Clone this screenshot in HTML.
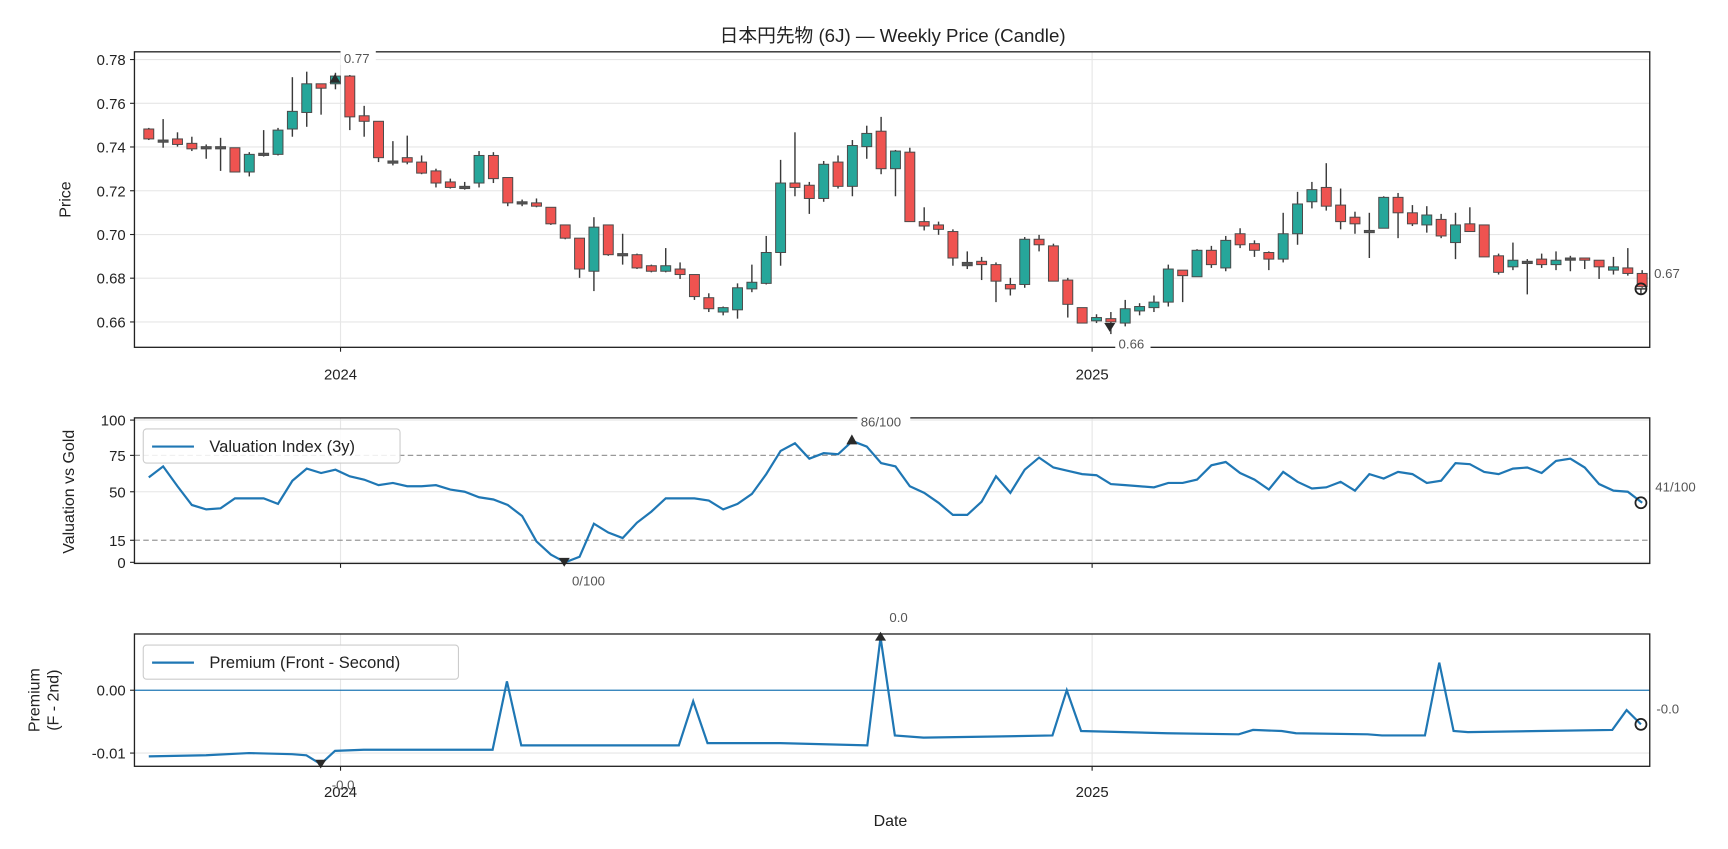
<!DOCTYPE html>
<html><head><meta charset="utf-8"><style>
html,body{margin:0;padding:0;background:#fff}
svg{display:block}
text{font-family:"Liberation Sans","Noto Sans CJK JP",sans-serif;fill:#222}
.t{font-size:13.5px}
.a{font-size:12px;fill:#555}
</style></head><body>
<svg id="s" width="1728" height="849" viewBox="0 0 1568 770" preserveAspectRatio="none" xmlns="http://www.w3.org/2000/svg">
<rect width="1568" height="770" fill="#fff"/>
<text x="810" y="38" text-anchor="middle" style="font-size:17px">日本円先物 (6J) — Weekly Price (Candle)</text>
<g id="grid" stroke="#e6e6e6" stroke-width="1"></g>
<g id="p1"></g>
<g id="p2"></g>
<g id="p3"></g>
<g fill="none" stroke="#222" stroke-width="1.2">
<rect x="122" y="47" width="1375" height="268"/>
<rect x="122" y="379" width="1375" height="132"/>
<rect x="122" y="575" width="1375" height="120"/>
</g>
<g stroke="#222" stroke-width="1">
<line x1="118" y1="54" x2="122" y2="54"/><line x1="118" y1="93.7" x2="122" y2="93.7"/><line x1="118" y1="133.3" x2="122" y2="133.3"/><line x1="118" y1="173" x2="122" y2="173"/><line x1="118" y1="212.7" x2="122" y2="212.7"/><line x1="118" y1="252.3" x2="122" y2="252.3"/><line x1="118" y1="292" x2="122" y2="292"/>
<line x1="309" y1="315" x2="309" y2="319"/><line x1="991" y1="315" x2="991" y2="319"/>
<line x1="118" y1="381" x2="122" y2="381"/><line x1="118" y1="413" x2="122" y2="413"/><line x1="118" y1="446" x2="122" y2="446"/><line x1="118" y1="490" x2="122" y2="490"/><line x1="118" y1="510" x2="122" y2="510"/>
<line x1="309" y1="511" x2="309" y2="515"/><line x1="991" y1="511" x2="991" y2="515"/>
<line x1="118" y1="626" x2="122" y2="626"/><line x1="118" y1="683" x2="122" y2="683"/>
<line x1="309" y1="695" x2="309" y2="699"/><line x1="991" y1="695" x2="991" y2="699"/>
</g>
<g class="t" text-anchor="end">
<text x="114" y="59" class="t">0.78</text><text x="114" y="98.7" class="t">0.76</text><text x="114" y="138.3" class="t">0.74</text><text x="114" y="178" class="t">0.72</text><text x="114" y="217.7" class="t">0.70</text><text x="114" y="257.3" class="t">0.68</text><text x="114" y="297" class="t">0.66</text>
<text x="114" y="386" class="t">100</text><text x="114" y="418" class="t">75</text><text x="114" y="451" class="t">50</text><text x="114" y="495" class="t">15</text><text x="114" y="515" class="t">0</text>
<text x="114" y="631" class="t">0.00</text><text x="114" y="688" class="t">-0.01</text>
</g>
<g text-anchor="middle">
<text x="309" y="344" class="t">2024</text><text x="991" y="344" class="t">2025</text>
<text x="309" y="723" class="t">2024</text><text x="991" y="723" class="t">2025</text>
<text x="808" y="749" class="t" style="font-size:14.5px">Date</text>
<text transform="translate(64,181) rotate(-90)" class="t" style="font-size:14.5px">Price</text>
<text transform="translate(67,446) rotate(-90)" class="t" style="font-size:14.5px">Valuation vs Gold</text>
<text transform="translate(36,635) rotate(-90)" class="t" style="font-size:14.5px">Premium</text>
<text transform="translate(53,635) rotate(-90)" class="t" style="font-size:14.5px">(F - 2nd)</text>
</g>
<rect x="130" y="389" width="233" height="31" rx="3" fill="#fff" fill-opacity="0.85" stroke="#ccc"/>
<line x1="138" y1="405" x2="176" y2="405" stroke="#1f77b4" stroke-width="2"/>
<text x="190" y="410" style="font-size:15px">Valuation Index (3y)</text>
<rect x="130" y="585" width="286" height="31" rx="3" fill="#fff" fill-opacity="0.85" stroke="#ccc"/>
<line x1="138" y1="601" x2="176" y2="601" stroke="#1f77b4" stroke-width="2"/>
<text x="190" y="606" style="font-size:15px">Premium (Front - Second)</text>
<rect x="309" y="45" width="32" height="14" fill="#fff"/><text x="312" y="57" class="a">0.77</text>
<rect x="1012" y="304" width="32" height="14" fill="#fff"/><text x="1015" y="316" class="a">0.66</text>
<text x="1501" y="252" class="a">0.67</text>
<rect x="778" y="375" width="48" height="14" fill="#fff"/><text x="781" y="387" class="a">86/100</text>
<text x="519" y="531" class="a">0/100</text>
<text x="1502" y="446" class="a">41/100</text>
<text x="807" y="564" class="a">0.0</text>
<text x="301" y="716" class="a">-0.0</text>
<text x="1503" y="647" class="a">-0.0</text>
</svg>
<script>
var NS="http://www.w3.org/2000/svg";
function el(p,t,a){var e=document.createElementNS(NS,t);for(var k in a)e.setAttribute(k,a[k]);document.getElementById(p).appendChild(e);return e;}
[54,93.7,133.3,173,212.7,252.3,292].forEach(function(y){el("grid","line",{x1:122,x2:1497,y1:y,y2:y});});
[381,446,510].forEach(function(y){el("grid","line",{x1:122,x2:1497,y1:y,y2:y});});
[683].forEach(function(y){el("grid","line",{x1:122,x2:1497,y1:y,y2:y});});
[[47,315],[379,511],[575,695]].forEach(function(r){[309,991].forEach(function(x){el("grid","line",{x1:x,x2:x,y1:r[0],y2:r[1]});});});
var C=[[117,126,116,127,'r'],[127,129,108,134,'d'],[126,131,120,133,'r'],[130,135,124,137,'r'],[133,135,131,144,'d'],[133,135,125,155,'d'],[134,156,134,156,'r'],[140,156,138,160,'g'],[139,141,118,142,'d'],[118,140,116,141,'g'],
[101,117,70,124,'g'],[76,102,65,115,'g'],[76,80,76,104,'r'],[69,76,66,81,'g'],[69,106,68,118,'r'],[105,110,96,124,'r'],[110,143,110,147,'r'],[146,148,128,150,'d'],[143,147,123,149,'r'],[147,157,141,158,'r'],
[155,166,153,170,'r'],[165,170,162,171,'r'],[169,171,165,172,'d'],[141,166,137,170,'g'],[141,162,138,166,'r'],[161,184,161,187,'r'],[183,185,181,187,'d'],[184,187,180,188,'r'],[188,203,188,204,'r'],[204,216,204,217,'r'],
[216,244,216,252,'r'],[206,246,197,264,'g'],[204,231,204,232,'r'],[230,232,212,240,'d'],[231,243,230,244,'r'],[241,246,240,247,'r'],[241,246,225,247,'g'],[244,249,238,253,'r'],[249,269,249,272,'r'],[270,280,266,283,'r'],
[279,283,278,286,'g'],[261,281,257,289,'g'],[256,262,240,265,'g'],[229,257,214,258,'g'],[166,229,145,241,'g'],[166,170,120,178,'r'],[168,180,165,194,'r'],[149,180,146,183,'g'],[147,169,141,171,'r'],[132,169,127,178,'g'],
[121,133,114,144,'g'],[119,153,106,158,'r'],[137,153,136,178,'g'],[138,201,134,201,'r'],[201,205,188,209,'r'],[204,208,201,213,'r'],[210,234,208,241,'r'],[238,241,228,244,'d'],[237,240,233,254,'r'],[240,255,238,274,'r'],
[258,262,252,268,'r'],[217,258,215,261,'g'],[217,222,213,228,'r'],[223,255,221,255,'r'],[254,276,252,288,'r'],[279,293,279,293,'r'],[288,291,285,293,'g'],[289,292,283,303,'r'],[280,293,272,296,'g'],[278,282,275,286,'g'],
[274,279,268,283,'g'],[244,274,240,278,'g'],[245,250,245,274,'r'],[227,251,226,251,'g'],[227,240,223,243,'r'],[218,243,214,246,'g'],[212,222,207,225,'r'],[221,227,218,233,'r'],[229,235,228,245,'r'],[212,235,193,238,'g'],
[185,212,174,222,'g'],[172,183,165,189,'g'],[170,187,148,191,'r'],[186,201,171,208,'r'],[197,203,192,212,'r'],[209,211,193,234,'d'],[179,207,178,207,'g'],[179,193,175,216,'r'],[193,203,186,205,'r'],[195,204,187,211,'g'],
[199,214,194,216,'r'],[204,220,193,235,'g'],[203,210,188,210,'r'],[204,233,204,233,'r'],[232,247,230,249,'r'],[236,242,220,245,'g'],[237,239,235,267,'d'],[235,240,230,243,'r'],[236,240,228,245,'g'],[234,236,232,246,'d'],
[234,236,234,244,'r'],[236,242,236,253,'r'],[242,245,233,249,'g'],[243,248,225,250,'r'],[248,260,245,261,'r']];
C.forEach(function(c,i){var x=135+i*13.03;
el("p1","line",{x1:x,x2:x,y1:c[2],y2:c[3],stroke:"#3a3a3a","stroke-width":1.3});
var col=c[4]=='r'?'#ef5350':(c[4]=='g'?'#26a69a':'#555');
var h=Math.max(c[1]-c[0],1.5);
el("p1","rect",{x:x-4.5,y:c[0],width:9,height:h,fill:col,stroke:"#4a4a4a","stroke-width":0.9});});
el("p1","path",{d:"M304 67 L299 75 L309 75 Z",fill:"#2a2a2a"});
el("p1","path",{d:"M1007 301 L1002 293 L1012 293 Z",fill:"#2a2a2a"});
el("p1","circle",{cx:1489,cy:262,r:5,fill:"none",stroke:"#222","stroke-width":1.6});
el("p1","line",{x1:1484,x2:1494,y1:262,y2:262,stroke:"#222","stroke-width":1.2});
el("p1","line",{x1:1489,x2:1489,y1:262,y2:267,stroke:"#222","stroke-width":1.2});
el("p2","line",{x1:122,x2:1497,y1:413,y2:413,stroke:"#999","stroke-dasharray":"5,3","stroke-width":1.2});
el("p2","line",{x1:122,x2:1497,y1:490,y2:490,stroke:"#999","stroke-dasharray":"5,3","stroke-width":1.2});
var V=[433,423,441,458,462,461,452,452,452,457,436,425,429,426,432,435,440,438,441,441,440,444,446,451,453,458,468,491,503,510,505,475,483,488,474,464,452,452,452,454,462,457,448,430,409,402,416,411,412,400,405,420,423,441,447,456,467,467,455,432,447,426,415,424,427,430,431,439,440,441,442,438,438,435,422,419,429,435,444,428,437,443,442,437,445,430,434,428,430,438,436,420,421,428,430,425,424,429,418,416,424,439,445,446,456];
el("p2","polyline",{points:V.map(function(v,i){return (135+i*13.03)+","+v}).join(" "),fill:"none",stroke:"#1f77b4","stroke-width":2});
el("p2","path",{d:"M512 514 L507 506 L517 506 Z",fill:"#2a2a2a"});
el("p2","path",{d:"M773 394 L768 403 L778 403 Z",fill:"#2a2a2a"});
el("p2","circle",{cx:1489,cy:456,r:5,fill:"none",stroke:"#222","stroke-width":1.6});
el("p3","line",{x1:122,x2:1497,y1:626,y2:626,stroke:"#1f77b4","stroke-width":1.2});
var P=[[135,686],[187,685],[226,683],[265,684],[278,685],[291,693],[304,681],[330,680],[356,680],[382,680],[447,680],[460,618],[473,676],[538,676],[616,676],[629,636],[642,674],[708,674],[787,676],[799,578],[812,667],[838,669],[903,668],[955,667],[968,626],[981,663],[1059,665],[1124,666],[1137,662],[1163,663],[1176,665],[1241,666],[1254,667],[1293,667],[1306,601],[1319,663],[1332,664],[1397,663],[1463,662],[1476,644],[1489,657]];
el("p3","polyline",{points:P.map(function(p){return p.join(",")}).join(" "),fill:"none",stroke:"#1f77b4","stroke-width":2});
el("p3","path",{d:"M291 697 L286 689 L296 689 Z",fill:"#2a2a2a"});
el("p3","path",{d:"M799 573 L794 581 L804 581 Z",fill:"#2a2a2a"});
el("p3","circle",{cx:1489,cy:657,r:5,fill:"none",stroke:"#222","stroke-width":1.6});
</script>
</body></html>
